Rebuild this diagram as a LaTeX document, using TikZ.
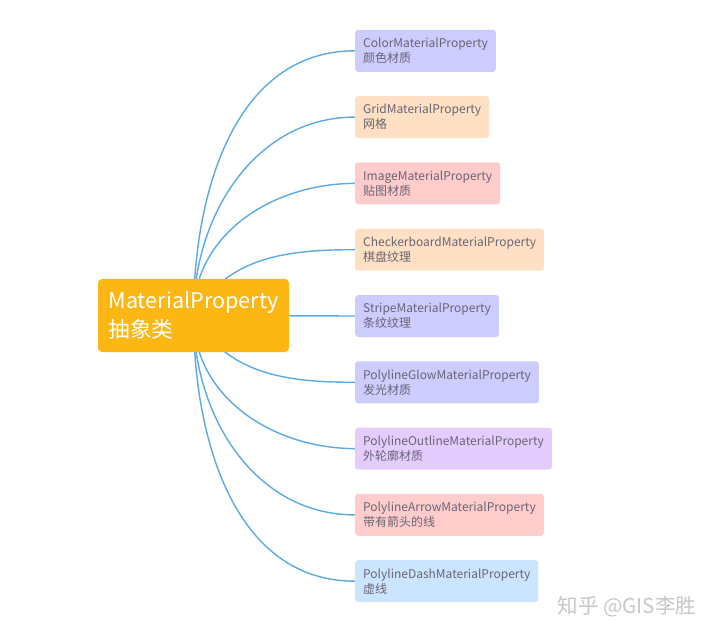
\documentclass[tikz,border=0pt]{standalone}
\usepackage{fontspec}
\setmainfont{Noto Sans CJK SC}
\usetikzlibrary{matrix, positioning, backgrounds}
\definecolor{naranja}{RGB}{253,183,21}
\definecolor{lila}{RGB}{204,204,255}
\definecolor{melocoton}{RGB}{255,224,196}
\definecolor{rosa}{RGB}{255,204,204}
\definecolor{violeta}{RGB}{229,204,255}
\definecolor{celeste}{RGB}{204,229,255}
\definecolor{texto}{RGB}{105,100,115}
\definecolor{linea}{RGB}{90,170,228}
\tikzset{
    raiz/.style={rectangle, rounded corners=4pt, fill=naranja, text=white,
        align=left, font=\fontsize{21.6}{29.5}\selectfont, inner xsep=10pt,
        minimum width=191pt, minimum height=73pt},
    hoja/.style={rectangle, rounded corners=3pt, text=texto, align=left,
        font=\fontsize{12}{15}\selectfont, inner xsep=8pt,
        minimum height=42pt, anchor=west},
    rama/.style={draw=linea, line width=1.4pt},
    marca/.style={text=black!22, font=\fontsize{20.5}{20.5}\selectfont}}
\begin{document}
\begin{tikzpicture}[x=1pt, y=-1pt]
    \useasboundingbox (0,0) rectangle (720,636);
    \node (mat) [raiz] at (193.5,315.5) {MaterialProperty\\抽象类};
    \matrix (tipos) [anchor=west, inner sep=0pt, row sep=24.3pt,
        nodes={hoja}] at (355,316) {
        \node (color) [fill=lila] {ColorMaterialProperty\\颜色材质}; \\
        \node (grid) [fill=melocoton] {GridMaterialProperty\\网格}; \\
        \node (image) [fill=rosa] {ImageMaterialProperty\\贴图材质}; \\
        \node (checker) [fill=melocoton] {CheckerboardMaterialProperty\\棋盘纹理}; \\
        \node (stripe) [fill=lila] {StripeMaterialProperty\\条纹纹理}; \\
        \node (glow) [fill=lila] {PolylineGlowMaterialProperty\\发光材质}; \\
        \node (outline) [fill=violeta] {PolylineOutlineMaterialProperty\\外轮廓材质}; \\
        \node (arrow) [fill=rosa] {PolylineArrowMaterialProperty\\带有箭头的线}; \\
        \node (dash) [fill=celeste] {PolylineDashMaterialProperty\\虚线}; \\};
    \node (firma) [marca] at (627,607) {知乎 @GIS李胜};

    \begin{scope}[on background layer]
        \draw[rama] (mat.center) to[out=90, in=180] (color.west);
        \draw[rama] (mat.center) to[out=90, in=180] (grid.west);
        \draw[rama] (mat.center) to[out=90, in=180] (image.west);
        \draw[rama] (mat.center) to[out=60, in=180] (checker.west);
        \draw[rama] (mat.center) -- (stripe.west);
        \draw[rama] (mat.center) to[out=-60, in=180] (glow.west);
        \draw[rama] (mat.center) to[out=-90, in=180] (outline.west);
        \draw[rama] (mat.center) to[out=-90, in=180] (arrow.west);
        \draw[rama] (mat.center) to[out=-90, in=180] (dash.west);
    \end{scope}
\end{tikzpicture}
\end{document}
